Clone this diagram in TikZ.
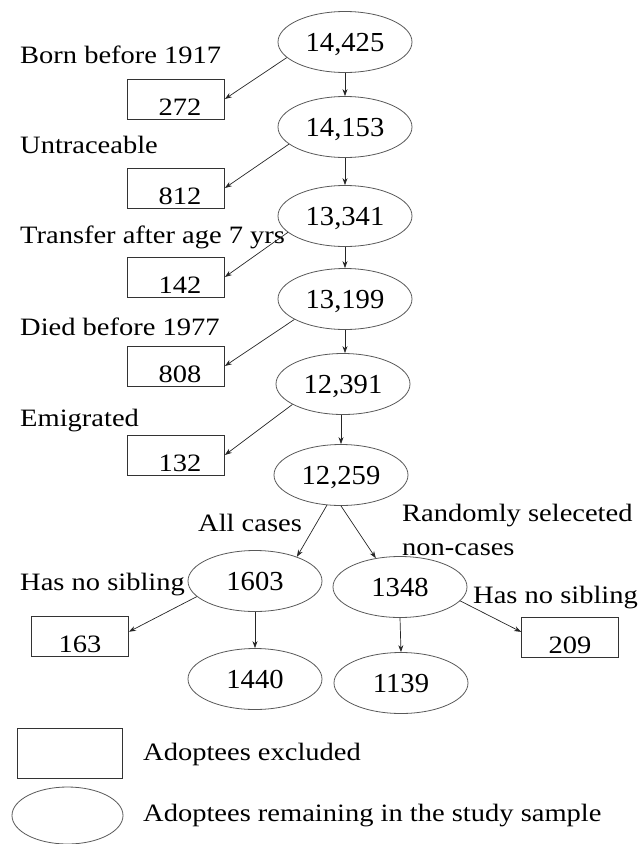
\documentclass[tikz,border=0pt]{standalone}
\usepackage{fontspec}
\setmainfont{Liberation Serif}
\newfontfamily\lblfont{Liberation Serif}[FakeStretch=1.14]
\newfontfamily\numfont{Liberation Serif}[FakeStretch=1.04]
\usetikzlibrary{shapes.geometric,arrows.meta}
\begin{document}
\begin{tikzpicture}[x=1pt,y=-1pt,
  remain/.style={ellipse,draw=black!65,line width=0.8pt,minimum width=134pt,minimum height=61pt,inner sep=0pt,
    font=\numfont\fontsize{27.5}{33}\selectfont,text height=19pt,text depth=0pt},
  excl/.style={rectangle,draw=black!80,line width=0.8pt,minimum width=97pt,minimum height=40pt,inner sep=0pt,
    font=\lblfont\fontsize{25}{30}\selectfont,text height=32pt,text depth=0pt},
  lbl/.style={anchor=base west,inner sep=0pt,font=\lblfont\fontsize{25}{30}\selectfont},
  arr/.style={draw=black!85,line width=0.7pt,-{Stealth[length=7pt,width=5pt]}}]
\useasboundingbox (0,0) rectangle (638,844);
% main chain
\node[remain] (e1) at (345,42) {14,425};
\node[remain] (e2) at (345,127) {14,153};
\node[remain] (e3) at (345,216) {13,341};
\node[remain] (e4) at (345,299) {13,199};
\node[remain] (e5) at (343,384) {12,391};
\node[remain] (e6) at (341,475) {12,259};
\node[remain] (c1) at (255,581) {1603};
\node[remain] (c2) at (255,679) {1440};
\node[remain] (n1) at (400,587) {1348};
\node[remain] (n2) at (401,683) {1139};
% excluded boxes
\node[excl] (b1) at (176,99) {\hspace*{8pt}272};
\node[excl] (b2) at (176,188) {\hspace*{8pt}812};
\node[excl] (b3) at (176,277) {\hspace*{8pt}142};
\node[excl] (b4) at (176,366) {\hspace*{8pt}808};
\node[excl] (b5) at (176,455) {\hspace*{8pt}132};
\node[excl] (b6) at (80,636) {163};
\node[excl] (b7) at (570,637) {209};
% labels
\node[lbl] (l1) at (20,63) {Born before 1917};
\node[lbl] (l2) at (20,153) {Untraceable};
\node[lbl] (l3) at (20,243) {Transfer after age 7 yrs};
\node[lbl] (l4) at (20,335) {Died before 1977};
\node[lbl] (l5) at (20,426) {Emigrated};
\node[lbl] (l6) at (198,531) {All cases};
\node[lbl] (l7) at (402,521) {Randomly seleceted};
\node[lbl] (l8) at (402,555) {non-cases};
\node[lbl] (l9) at (20,590) {Has no sibling};
\node[lbl] (l10) at (473,603) {Has no sibling};
% connectors
\draw[arr] (e1.south) -- (e2.north);
\draw[arr] (e2.south) -- (e3.north);
\draw[arr] (e3.south) -- (e4.north);
\draw[arr] (e4.south) -- (e4.south |- e5.north);
\draw[arr] (e6.north |- e5.south) -- (e6.north);
\draw[arr] (e1.195) -- (b1.east);
\draw[arr] (e2.197) -- (b2.east);
\draw[arr] (e3.196) -- (b3.east);
\draw[arr] (e4.202) -- (b4.east);
\draw[arr] (e5.202) -- (b5.east);
\draw[arr] (e6.245) -- (c1.30);
\draw[arr] (e6.270) -- (n1.130);
\draw[arr] (c1.south) -- (c2.north);
\draw[arr] (n1.south) -- (n2.north);
\draw[arr] (c1.195) -- (b6.5);
\draw[arr] (n1.347) -- (b7.174);
% legend
\node[excl,minimum width=105pt,minimum height=50pt] (lgb) at (69.5,753) {};
\node[remain,minimum width=111pt,minimum height=57pt] (lge) at (67.5,815.5) {};
\node[lbl] (lt1) at (143,760) {Adoptees excluded};
\node[lbl] (lt2) at (143,821) {Adoptees remaining in the study sample};
\end{tikzpicture}
\end{document}
